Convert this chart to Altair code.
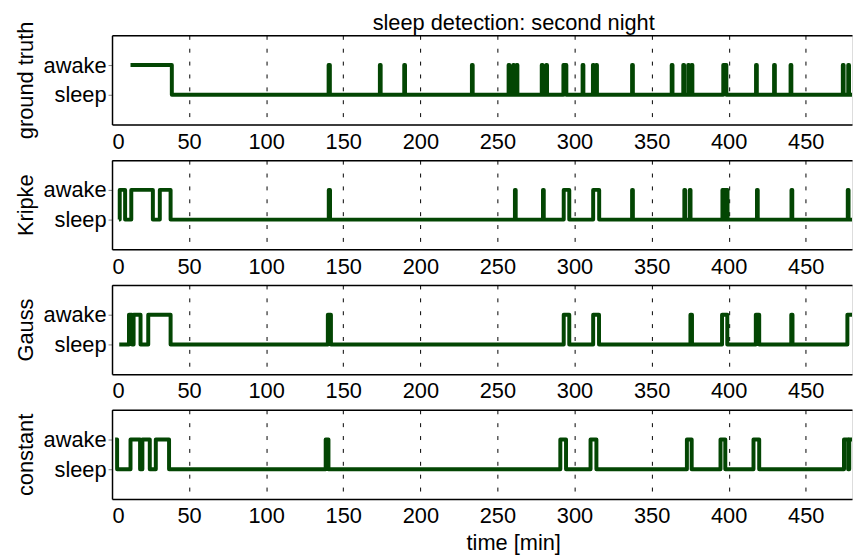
import altair as alt
import pandas as pd

T_END = 480
FONT = "Liberation Sans"
GREEN = "#034603"

names = ["ground truth", "Kripke", "Gauss", "constant"]
# time of the first sample of every trace [min]
starts = [12, 4.5, 4.7, 2]
# awake periods [from, to] in minutes
gt_awake = [[12, 38.8], [140.5, 141.3], [173.75, 174.25], [189.55, 190.05], [233.45, 233.95],
            [257.25, 257.75], [260.25, 260.75], [262.45, 262.95], [278.75, 279.25],
            [281.65, 282.15], [292.8, 294.7], [305.25, 305.75], [311.95, 312.45],
            [314.05, 314.55], [337.35, 337.85], [363.05, 363.55], [370.55, 371.05],
            [373.75, 374.25], [375.95, 376.45], [396.5, 398.5], [417.75, 418.25],
            [429.45, 429.95], [440.15, 440.65], [474.05, 474.55], [477.55, 478.05]]
kripke_awake = [[5, 8.5], [12.5, 26.5], [31, 38], [140.6, 141.4], [261.35, 261.85],
                [279.55, 280.05], [293, 296.6], [312.1, 316], [337.35, 337.85],
                [371.25, 371.75], [374.75, 375.25], [395.95, 396.45], [397.25, 397.75],
                [398.75, 399.25], [418.35, 418.85], [440.75, 441.25], [477.25, 477.75]]
gauss_awake = [[11, 13], [14, 18.5], [23.5, 38], [140, 142], [293, 296.6],
               [312.1, 315.9], [375.2, 376.2], [395.7, 399.1], [417.6, 419.8],
               [440.6, 441.4], [477, 480]]
const_awake = [[2, 3.3], [12, 18.2], [19.7, 24.5], [28.4, 37], [138.6, 140.4],
               [290.8, 294.5], [310.4, 314.2], [372.9, 376], [394.7, 397.8],
               [416.1, 419.8], [474.8, 477.5], [478.2, 480]]
awake_lists = [gt_awake, kripke_awake, gauss_awake, const_awake]

x_ticks = list(range(0, 451, 50))
title_text = "sleep detection: second night"
x_title = "time [min]"


def trace(start, awake, end=T_END):
    pts = []
    if awake[0][0] > start:
        pts.append((start, 0))
    for a, b in awake:
        if a > start:
            pts.append((a, 0))
        pts.append((a, 1))
        pts.append((b, 1))
        if b < end:
            pts.append((b, 0))
    if awake[-1][1] < end:
        pts.append((end, 0))
    return pd.DataFrame({"t": [p[0] for p in pts], "state": [p[1] for p in pts],
                         "i": list(range(len(pts)))})


xscale = alt.Scale(domain=[0, T_END], nice=False, zero=False)
yscale = alt.Scale(domain=[-1, 2], nice=False, zero=False)
FS = 22


def panel(k):
    df = trace(starts[k], awake_lists[k])
    last = k == len(names) - 1
    first = k == 0
    bottom_axis = alt.Axis(values=x_ticks, grid=True, gridDash=[4, 9], gridColor="black",
                           gridOpacity=1, gridWidth=1, ticks=False, labelPadding=7,
                           labelFontSize=FS, labelFont=FONT, labelColor="black",
                           domainColor="black", domainWidth=1.5,
                           title=x_title if last else None, titleX=405, titleAlign="center",
                           titleFont=FONT, titleFontSize=FS, titleFontWeight="normal",
                           titleColor="black", titlePadding=6)
    line = alt.Chart(df).mark_line(color=GREEN, strokeWidth=4, strokeJoin="round", clip=True).encode(
        x=alt.X("t:Q", scale=xscale, axis=bottom_axis),
        y=alt.Y("state:Q", scale=yscale,
                axis=alt.Axis(values=[0, 1], labelExpr="datum.value == 1 ? 'awake' : 'sleep'",
                              grid=False, tickSize=4, tickColor="#808080", labelFontSize=FS,
                              labelFont=FONT, labelColor="black", labelPadding=2,
                              domainColor="black", domainWidth=1.5, title=names[k],
                              titleFont=FONT, titleFontSize=FS, titleFontWeight="normal",
                              titleColor="black", titlePadding=6)),
        order="i:Q",
    )
    top = alt.Chart(df).mark_rule(opacity=0).encode(
        x=alt.X("t:Q", scale=xscale,
                axis=alt.Axis(orient="top", labels=False, ticks=False, grid=False,
                              domainColor="black", domainWidth=1.5,
                              title=title_text if first else None, titleX=405,
                              titleAlign="center", titleFont=FONT, titleFontSize=FS,
                              titleFontWeight="normal", titleColor="black", titlePadding=1)),
    )
    return alt.layer(line, top).resolve_axis(x="independent").properties(width=747, height=90)


chart = alt.vconcat(*[panel(k) for k in range(len(names))], spacing=36, bounds="flush").properties(
    padding={"left": 5, "top": 0, "right": 0, "bottom": 3}
).configure_view(strokeWidth=0).configure(background="white")

chart.save("out.html", embed_options={"renderer": "svg", "actions": False})
